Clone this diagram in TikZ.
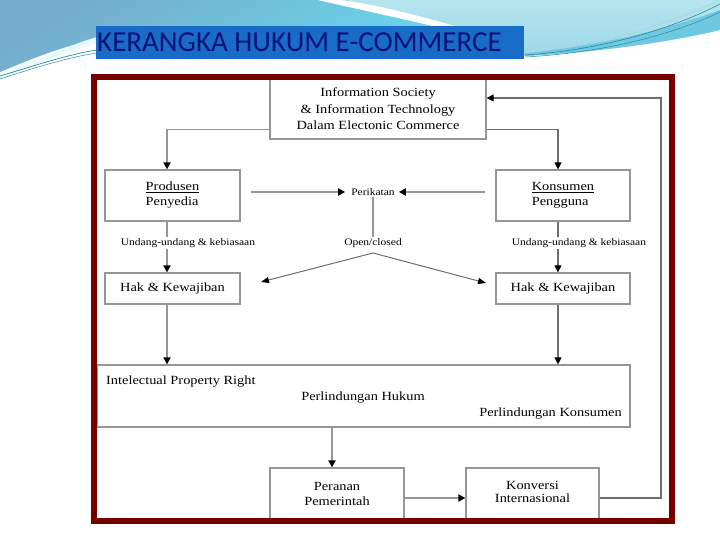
\documentclass[tikz,border=0pt]{standalone}
\usepackage{fontspec}
\setmainfont{Liberation Serif}
\newfontfamily\diagfont[FakeStretch=1.15]{Liberation Serif}
\newfontfamily\titlefont{Carlito}
\usetikzlibrary{arrows.meta}
\definecolor{framered}{RGB}{118,0,0}
\definecolor{titlebg}{RGB}{24,108,200}
\definecolor{titletxt}{RGB}{8,18,120}
\definecolor{steeltop}{RGB}{118,172,204}
\definecolor{steelbot}{RGB}{104,218,238}
\definecolor{lightcyan}{RGB}{182,228,238}
\definecolor{midcyan}{RGB}{150,214,230}
\definecolor{bandcyan}{RGB}{110,200,224}
\definecolor{tealline}{RGB}{40,140,160}
\definecolor{boxgray}{RGB}{150,150,150}
\definecolor{linegray}{RGB}{150,150,150}
\definecolor{darkline}{RGB}{110,110,110}
\tikzset{
  box/.style={draw=boxgray, line width=1.2pt, fill=white, inner sep=0pt, font=\diagfont\fontsize{12.5}{15}\selectfont},
  lbl/.style={inner sep=1pt, font=\diagfont\fontsize{10}{12}\selectfont},
  conn/.style={draw=linegray, line width=1.8pt, -{Triangle[length=7pt,width=7pt,color=black]}},
  connthin/.style={draw=darkline, line width=1.1pt, -{Triangle[length=7pt,width=7pt,color=black]}},
  connline/.style={draw=darkline, line width=1pt, -{Triangle[length=8pt,width=6pt,color=black]}},
}
\begin{document}
\begin{tikzpicture}[x=1pt,y=-1pt]
\useasboundingbox (0,0) rectangle (720,540);
\fill[white] (0,0) rectangle (720,540);
% ---- background wave ----
\shade[top color=lightcyan, bottom color=midcyan]
  (0,0) -- (720,0) -- (720,30) .. controls (670,42) and (600,52) .. (525,56)
  -- (97,40) .. controls (70,44) and (40,55) .. (0,72) -- cycle;
\fill[bandcyan] (720,10) .. controls (660,32) and (590,47) .. (525,53)
  -- (525,56) .. controls (600,52) and (670,42) .. (720,30) -- cycle;
\shade[top color=steeltop, bottom color=steelbot, shading angle=30]
  (0,0) -- (318,0) .. controls (370,12) and (420,22) .. (480,38)
  -- (480,58) -- (97,40) .. controls (70,44) and (40,55) .. (0,72) -- cycle;
\fill[white] (318,0) .. controls (370,12) and (420,22) .. (480,38)
  -- (480,33) .. controls (420,16) and (380,5) .. (340,0) -- cycle;
\fill[white!85!steelbot] (0,76) .. controls (40,58) and (70,45) .. (97,37)
  -- (97,44) .. controls (70,50) and (40,62) .. (0,80) -- cycle;
\draw[tealline, line width=0.7pt] (0,76) .. controls (40,64) and (70,54) .. (97,50);
\draw[tealline, line width=0.5pt] (0,79) .. controls (40,66) and (70,57) .. (97,53);
\draw[tealline, line width=0.6pt] (525,55) .. controls (600,50) and (670,30) .. (720,4);
\draw[tealline, line width=0.5pt] (525,57) .. controls (600,53) and (670,36) .. (720,12);
\draw[white!60!tealline, line width=0.5pt] (525,53) .. controls (600,46) and (670,24) .. (720,0);
% ---- title ----
\fill[titlebg] (96,26) rectangle (524,59);
\node[anchor=base west, inner sep=0pt, text=titletxt, font=\titlefont\fontsize{29}{31}\selectfont] (title) at (97,52) {KERANGKA HUKUM E-COMMERCE};
% ---- column coordinates ----
\coordinate (colL) at (167,0);
\coordinate (colR) at (558,0);
\coordinate (colB) at (332,0);
\coordinate (loopc) at (661,0);
% ---- boxes ----
\node[box, minimum width=216pt, minimum height=60pt, align=center] (info) at (378,109)
  {Information Society\\[1.5pt]\& Information Technology\\[1.5pt]Dalam Electonic Commerce};
\node[box, minimum width=135pt, minimum height=51pt, align=left] (prod) at (172.5,195.5)
  {\underline{Produsen}\\Penyedia};
\node[box, minimum width=134pt, minimum height=51pt, align=left] (kons) at (563,195.5)
  {\underline{Konsumen}\\Pengguna};
\node[box, minimum width=135pt, minimum height=31pt] (hakL) at (172.5,288.5) {Hak \& Kewajiban};
\node[box, minimum width=134pt, minimum height=31pt] (hakR) at (563,288.5) {Hak \& Kewajiban};
\node[box, minimum width=533pt, minimum height=62pt] (big) at (363.5,396) {};
\node[anchor=base west, inner sep=0pt, font=\diagfont\fontsize{12.5}{15}\selectfont] (ipr) at (106,384) {Intelectual Property Right};
\node[anchor=base, inner sep=0pt, font=\diagfont\fontsize{12.5}{15}\selectfont] (phuk) at (363,400) {Perlindungan Hukum};
\node[anchor=base east, inner sep=0pt, font=\diagfont\fontsize{12.5}{15}\selectfont] (pkons) at (622,416) {Perlindungan Konsumen};
\node[box, minimum width=134pt, minimum height=51pt, align=center] (peran) at (337,493.5)
  {Peranan\\Pemerintah};
\node[box, minimum width=133pt, minimum height=51pt, align=center] (konv) at (532.5,493.5)
  {\raisebox{3pt}{\shortstack{Konversi\\[1pt]Internasional}}};
% ---- labels ----
\node[lbl] (perik) at (373,192) {Perikatan};
\node[lbl] (open) at (373,243) {Open/closed};
\coordinate (tipL) at (261,282);
\coordinate (tipR) at (486,283);
\coordinate (apex) at (373,253);
\path (prod.east |- perik.west) coordinate (pstartL);
\path (kons.west |- perik.east) coordinate (pstartR);
% ---- connectors ----
\draw[conn] ([yshift=10pt]info.south west) -| (prod.north -| colL);
\draw[connthin] ([yshift=10pt]info.south east) -| (kons.north -| colR);
\draw[conn] (prod.south -| colL) -- (hakL.north -| colL);
\draw[connthin] (kons.south -| colR) -- (hakR.north -| colR);
\node[lbl, fill=white] (uuL) at (188,243) {Undang-undang \& kebiasaan};
\node[lbl, fill=white] (uuR) at (579,243) {Undang-undang \& kebiasaan};
\draw[conn] (hakL.south -| colL) -- (big.north -| colL);
\draw[connthin] (hakR.south -| colR) -- (big.north -| colR);
\draw[conn, shorten >=5pt] ([xshift=10pt]pstartL) -- (perik.west);
\draw[conn, shorten >=3pt] ([xshift=-10pt]pstartR) -- (perik.east);
\draw[draw=linegray, line width=1.3pt] (perik.south) -- (open.north);
\draw[connline] (apex) -- (tipL);
\draw[connline] (apex) -- (tipR);
\draw[conn] (big.south -| colB) -- (peran.north -| colB);
\draw[conn] ([yshift=-4.5pt]peran.east) -- ([yshift=-4.5pt]konv.west);
\draw[connthin] ([yshift=-4.5pt]konv.east) -- ([yshift=-4.5pt]konv.east -| loopc)
  -- ([yshift=11pt]info.east -| loopc) -- ([yshift=11pt]info.east);
% ---- frame ----
\draw[framered, line width=6pt] (94,77) rectangle (672,521);
\end{tikzpicture}
\end{document}
